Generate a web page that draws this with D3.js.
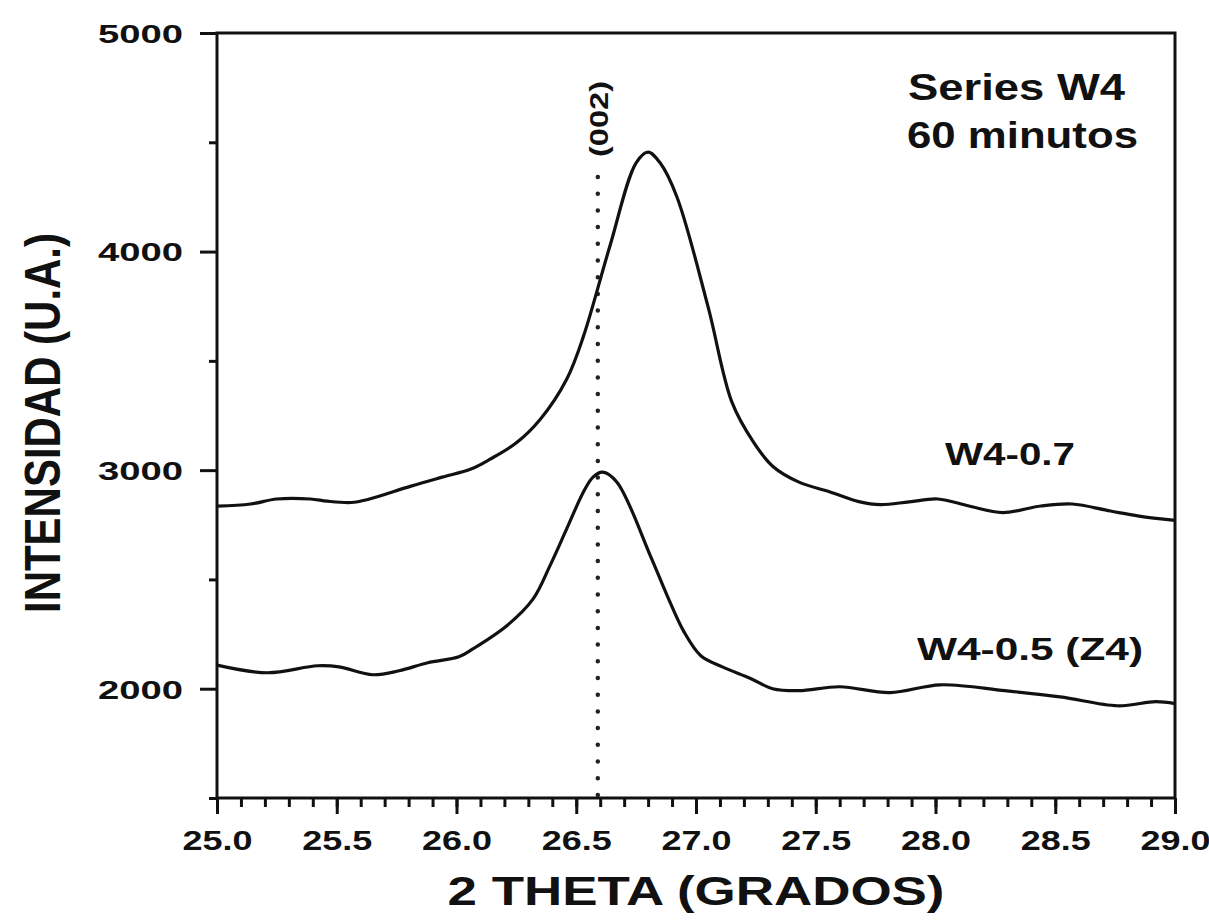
<!DOCTYPE html>
<html>
<head>
<meta charset="utf-8">
<script src="https://cdn.jsdelivr.net/npm/d3@7"></script>
<style>
  body { margin: 0; background: #fff; }
  text { font-family: "Liberation Sans", Arial, sans-serif; font-weight: bold; fill: #111; }
</style>
</head>
<body>
<svg id="chart" width="1209" height="922"></svg>
<script>
// 2θ positions (degrees) and intensities (a.u.) for each sample
const thetaW407 = [25.00, 25.14, 25.25, 25.39, 25.46, 25.56, 25.63, 25.81, 25.94, 26.06, 26.14, 26.25, 26.35,
  26.46, 26.53, 26.64, 26.75, 26.80, 26.85, 26.92, 27.05, 27.15, 27.24,
  27.32, 27.43, 27.56, 27.68, 27.77, 27.89, 28.01, 28.14, 28.28, 28.44, 28.57, 28.73, 28.85, 29.00];
const intW407 = [2835, 2845, 2868, 2868, 2858, 2852, 2866, 2927, 2968, 3005, 3050, 3125, 3233,
  3416, 3612, 4023, 4406, 4455, 4406, 4251, 3749, 3311, 3128,
  3018, 2945, 2900, 2856, 2842, 2855, 2868, 2836, 2806, 2836, 2845, 2813, 2790, 2770];

const thetaW405 = [25.00, 25.21, 25.42, 25.51, 25.65, 25.76, 25.88, 26.01, 26.07, 26.21, 26.32, 26.39,
  26.46, 26.53, 26.57, 26.61, 26.67, 26.81, 26.88, 26.95, 27.02, 27.11, 27.23, 27.32, 27.43,
  27.60, 27.81, 28.02, 28.29, 28.52, 28.76, 28.92, 29.00];
const intW405 = [2108, 2073, 2105, 2100, 2064, 2082, 2119, 2146, 2183, 2288, 2411, 2562,
  2731, 2900, 2968, 2991, 2945, 2607, 2425, 2260, 2151, 2100, 2046, 2000, 1991,
  2009, 1982, 2018, 1991, 1963, 1922, 1941, 1932];

// Axis ticks
const xTickValues = [25.0, 25.5, 26.0, 26.5, 27.0, 27.5, 28.0, 28.5, 29.0];
const xTickLabels = ["25.0", "25.5", "26.0", "26.5", "27.0", "27.5", "28.0", "28.5", "29.0"];
const yTickValues = [2000, 3000, 4000, 5000];
const yTickLabels = ["2000", "3000", "4000", "5000"];
const yMinorValues = [1500, 2500, 3500, 4500];

// (002) reflection position
const peak002 = 26.59;

const svg = d3.select("#chart");
const plotLeft = 217, plotRight = 1175, plotTop = 33, plotBottom = 798;

const x = d3.scaleLinear().domain([25, 29]).range([plotLeft, plotRight]);
const y = d3.scaleLinear().domain([1500, 5000]).range([plotBottom, plotTop]);

function styleAxis(g) {
  g.select(".domain").remove();
  g.selectAll(".tick line").attr("stroke", "#111").attr("stroke-width", 3);
}

// minor x ticks every 0.1°
svg.append("g")
  .attr("transform", `translate(0,${plotBottom})`)
  .call(d3.axisBottom(x).tickValues(d3.range(250, 291).map(d => d / 10)).tickSize(9).tickFormat(""))
  .call(styleAxis);

// major x ticks with labels
const gx = svg.append("g")
  .attr("transform", `translate(0,${plotBottom})`)
  .call(d3.axisBottom(x).tickValues(xTickValues).tickSize(16)
    .tickFormat((d, i) => xTickLabels[i]))
  .call(styleAxis);
gx.selectAll(".tick text")
  .attr("y", 52).attr("dy", 0)
  .attr("font-size", 27)
  .attr("textLength", 70).attr("lengthAdjust", "spacingAndGlyphs");

// minor y ticks
svg.append("g")
  .attr("transform", `translate(${plotLeft},0)`)
  .call(d3.axisLeft(y).tickValues(yMinorValues).tickSize(8).tickFormat(""))
  .call(styleAxis);

// major y ticks with labels
const gy = svg.append("g")
  .attr("transform", `translate(${plotLeft},0)`)
  .call(d3.axisLeft(y).tickValues(yTickValues).tickSize(17).tickPadding(17)
    .tickFormat((d, i) => yTickLabels[i]))
  .call(styleAxis);
gy.selectAll(".tick text")
  .attr("font-size", 26)
  .attr("dy", "0.36em")
  .attr("textLength", 85).attr("lengthAdjust", "spacingAndGlyphs");

// plot frame
svg.append("rect")
  .attr("x", plotLeft).attr("y", plotTop)
  .attr("width", plotRight - plotLeft).attr("height", plotBottom - plotTop)
  .attr("fill", "none").attr("stroke", "#111").attr("stroke-width", 3);

// dotted marker for the (002) reflection
svg.append("line")
  .attr("x1", x(peak002)).attr("x2", x(peak002))
  .attr("y1", 177).attr("y2", plotBottom)
  .attr("stroke", "#222").attr("stroke-width", 4.5)
  .attr("stroke-linecap", "round")
  .attr("stroke-dasharray", "0 16.7");

svg.append("text")
  .attr("transform", `translate(${x(peak002) + 10},119) rotate(-90)`)
  .attr("text-anchor", "middle")
  .attr("font-size", 26)
  .attr("textLength", 76).attr("lengthAdjust", "spacingAndGlyphs")
  .text("(002)");

// diffraction patterns
const line = d3.line()
  .x(d => x(d[0]))
  .y(d => y(d[1]))
  .curve(d3.curveCatmullRom.alpha(0.5));

[[thetaW407, intW407], [thetaW405, intW405]].forEach(([t, v]) => {
  svg.append("path")
    .datum(t.map((d, i) => [d, v[i]]))
    .attr("d", line)
    .attr("fill", "none")
    .attr("stroke", "#111")
    .attr("stroke-width", 3.2)
    .attr("stroke-linejoin", "round");
});

// annotations
function label(txt, xPos, yPos, size, len) {
  svg.append("text")
    .attr("x", xPos).attr("y", yPos)
    .attr("font-size", size)
    .attr("textLength", len).attr("lengthAdjust", "spacingAndGlyphs")
    .text(txt);
}
label("Series W4", 908, 100, 36, 217);
label("60 minutos", 907, 148, 36, 231);
label("W4-0.7", 945, 465, 31, 130);
label("W4-0.5 (Z4)", 917, 660, 31, 226);

// axis titles
svg.append("text")
  .attr("x", (plotLeft + plotRight) / 2).attr("y", 905)
  .attr("text-anchor", "middle")
  .attr("font-size", 40)
  .attr("textLength", 497).attr("lengthAdjust", "spacingAndGlyphs")
  .text("2 THETA (GRADOS)");

svg.append("text")
  .attr("transform", `translate(60,423) rotate(-90)`)
  .attr("text-anchor", "middle")
  .attr("font-size", 50)
  .attr("textLength", 380).attr("lengthAdjust", "spacingAndGlyphs")
  .text("INTENSIDAD (U.A.)");
</script>
</body>
</html>
